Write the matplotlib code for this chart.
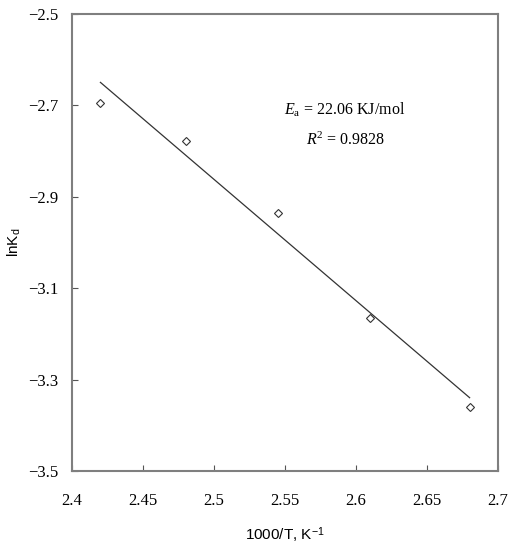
import matplotlib

matplotlib.use("Agg")
import matplotlib.pyplot as plt
import numpy as np

# 1000/T (K^-1) and ln Kd
inv_temp = [2.42, 2.48, 2.545, 2.61, 2.68]
ln_kd = [-2.694, -2.778, -2.935, -3.166, -3.36]

x_ticks = [2.4, 2.45, 2.5, 2.55, 2.6, 2.65, 2.7]
y_ticks = [-3.5, -3.3, -3.1, -2.9, -2.7, -2.5]

ea_text = r"$E_{\mathrm{a}}$ = 22.06 KJ/mol"
r2_text = r"$R^2$ = 0.9828"

plt.rcParams["mathtext.fontset"] = "custom"
plt.rcParams["mathtext.rm"] = "Liberation Serif"
plt.rcParams["mathtext.it"] = "Liberation Serif:italic"

SERIF = "Liberation Serif"
SANS = "Liberation Sans"
SPINE_COLOR = "#7f7f7f"


def main():
    fig = plt.figure(figsize=(5.13, 5.5), dpi=100)
    ax = fig.add_axes([0.1404, 0.1436, 0.8304, 0.8309])

    x = np.array(inv_temp)
    y = np.array(ln_kd)
    slope, intercept = np.polyfit(x, y, 1)
    fit_x = np.array([x.min(), x.max()])
    ax.plot(fit_x, slope * fit_x + intercept, color="#333333", linewidth=0.9)

    ax.plot(x, y, linestyle="none", marker="D", markersize=4.2,
            markerfacecolor="white", markeredgecolor="#333333", markeredgewidth=0.8)

    ax.set_xlim(2.4, 2.7)
    ax.set_ylim(-3.5, -2.5)
    ax.set_xticks(x_ticks)
    ax.set_xticklabels([f"{t:g}" for t in x_ticks], fontfamily=SERIF, fontsize=12)
    ax.set_yticks(y_ticks)
    ax.set_yticklabels([f"\u2212{abs(t):.1f}" for t in y_ticks], fontfamily=SERIF, fontsize=12)
    ax.tick_params(axis="x", direction="in", length=4, width=0.8, color="#555555", pad=16)
    ax.tick_params(axis="y", direction="in", length=4, width=0.8, color="#555555", pad=10)

    for spine in ax.spines.values():
        spine.set_color(SPINE_COLOR)
        spine.set_linewidth(1.5)

    ax.set_xlabel(r"1000/T, K$^{\mathregular{-1}}$", fontfamily=SANS, fontsize=11)
    ax.xaxis.set_label_coords(0.5, -0.119)
    ax.set_ylabel(r"lnK$_{\mathregular{d}}$", fontfamily=SANS, fontsize=11)
    ax.yaxis.set_label_coords(-0.115, 0.5)

    ax.text(2.549, -2.721, ea_text, fontfamily=SERIF, fontsize=11.5, va="baseline")
    ax.text(2.565, -2.787, r2_text, fontfamily=SERIF, fontsize=11.5, va="baseline")

    fig.savefig("out.png", dpi=100)
    plt.close(fig)


if __name__ == "__main__":
    main()
